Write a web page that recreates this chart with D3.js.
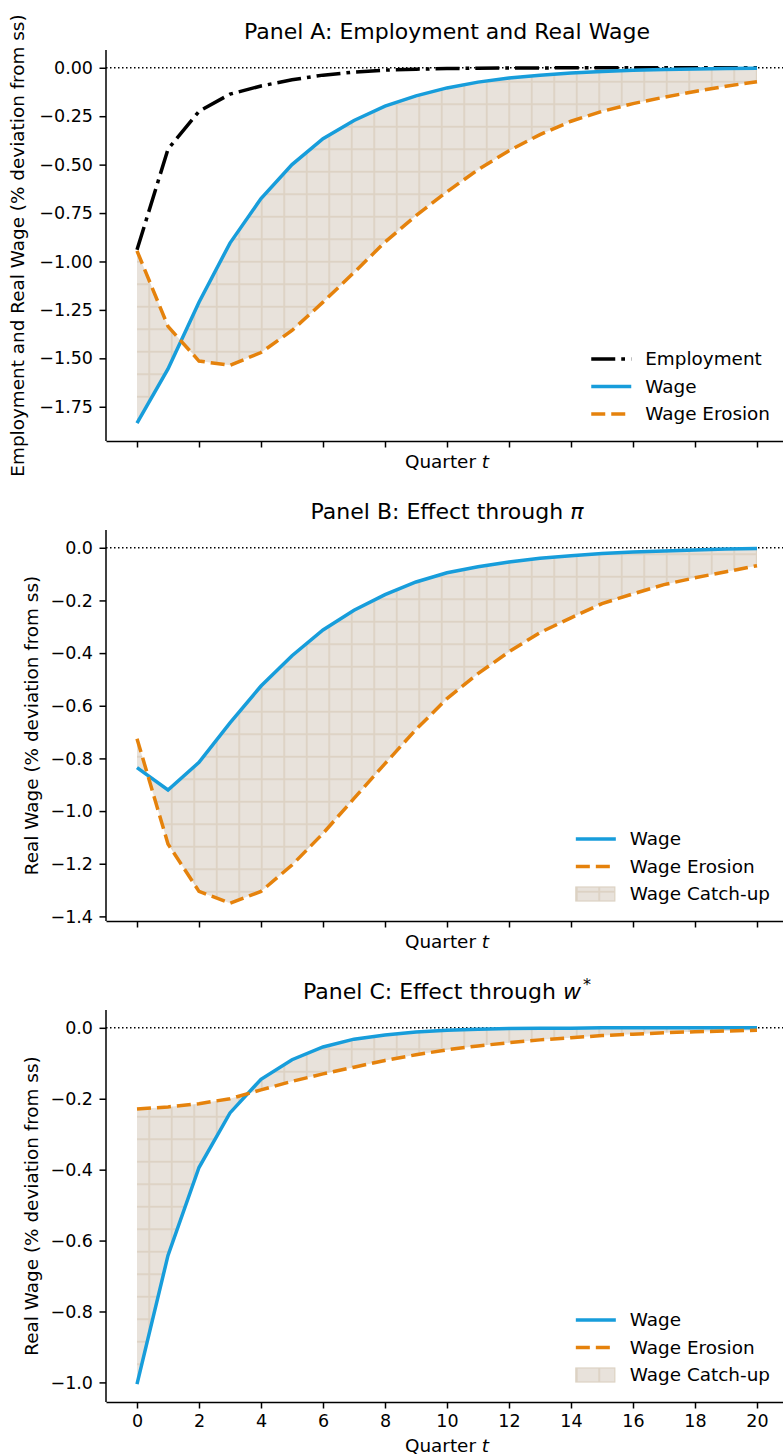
<!DOCTYPE html>
<html>
<head>
<meta charset="utf-8">
<script src="https://cdn.jsdelivr.net/npm/d3@7"></script>
<style>
  body { margin: 0; background: #fff; }
  svg text { font-family: "DejaVu Sans", sans-serif; fill: #000; }
</style>
</head>
<body>
<div id="chart"></div>
<script>
(function() {
  'use strict';

  // quarters after the shock
  var quarters = [0, 1, 2, 3, 4, 5, 6, 7, 8, 9, 10, 11, 12, 13, 14, 15, 16, 17, 18, 19, 20];
  var xTicks = [0, 2, 4, 6, 8, 10, 12, 14, 16, 18, 20];

  // Panel A
  var employmentA = [-0.94, -0.42, -0.225, -0.136, -0.094, -0.062, -0.038, -0.022, -0.012, -0.007,
    -0.004, -0.002, -0.001, -0.001, 0, 0, 0, 0, 0, 0, 0];
  var wageA = [-1.835, -1.555, -1.21, -0.905, -0.675, -0.50, -0.366, -0.272, -0.198, -0.145,
    -0.104, -0.074, -0.053, -0.038, -0.027, -0.019, -0.013, -0.009, -0.006, -0.004, -0.003];
  var erosionA = [-0.945, -1.335, -1.514, -1.536, -1.47, -1.356, -1.21, -1.057, -0.90, -0.763,
    -0.64, -0.526, -0.428, -0.345, -0.276, -0.225, -0.185, -0.152, -0.122, -0.095, -0.072];
  var yTicksA = [0, -0.25, -0.5, -0.75, -1.0, -1.25, -1.5, -1.75];

  // Panel B
  var wageB = [-0.835, -0.92, -0.815, -0.665, -0.525, -0.41, -0.312, -0.237, -0.178, -0.13,
    -0.095, -0.072, -0.054, -0.04, -0.03, -0.022, -0.016, -0.012, -0.008, -0.005, -0.003];
  var erosionB = [-0.725, -1.125, -1.305, -1.35, -1.305, -1.205, -1.085, -0.952, -0.82, -0.69,
    -0.573, -0.478, -0.395, -0.322, -0.266, -0.212, -0.175, -0.14, -0.114, -0.091, -0.068];
  var yTicksB = [0, -0.2, -0.4, -0.6, -0.8, -1.0, -1.2, -1.4];

  // Panel C
  var wageC = [-1.005, -0.642, -0.394, -0.24, -0.145, -0.09, -0.054, -0.032, -0.02, -0.012,
    -0.007, -0.004, -0.002, -0.001, -0.001, 0, 0, 0, 0, 0, 0];
  var erosionC = [-0.229, -0.223, -0.214, -0.2, -0.175, -0.151, -0.13, -0.111, -0.092, -0.076,
    -0.062, -0.051, -0.042, -0.034, -0.028, -0.022, -0.018, -0.014, -0.011, -0.009, -0.007];
  var yTicksC = [0, -0.2, -0.4, -0.6, -0.8, -1.0];

  var svgWidth = 783,
    svgHeight = 1456,
    left = 106,
    right = 788,
    tickSize = 17.5,
    labelSize = 18.4,
    titleSize = 22,
    tickLen = 6.5,
    tickPad = 6.5;

  var BLUE = '#179ddb',
    ORANGE = '#e5820c',
    FILL = '#e8e2db',
    HATCH = '#ddd2c3';

  var svg = d3.select('#chart')
    .append('svg')
    .attr('width', svgWidth)
    .attr('height', svgHeight)
    .attr('viewBox', '0 0 ' + svgWidth + ' ' + svgHeight);

  // '+' hatch, anchored to the page like matplotlib does
  var pat = svg.append('defs').append('pattern')
    .attr('id', 'hatch')
    .attr('patternUnits', 'userSpaceOnUse')
    .attr('x', 13.3)
    .attr('y', 13.3)
    .attr('width', 22.5)
    .attr('height', 22.5);
  pat.append('rect').attr('width', 22.5).attr('height', 22.5).attr('fill', FILL);
  pat.append('line').attr('x1', 0).attr('x2', 22.5).attr('y1', 0).attr('y2', 0)
    .attr('stroke', HATCH).attr('stroke-width', 3.6);
  pat.append('line').attr('x1', 0).attr('x2', 0).attr('y1', 0).attr('y2', 22.5)
    .attr('stroke', HATCH).attr('stroke-width', 3.6);

  var x = d3.scaleLinear().domain([-1, 21]).range([left, right]);

  function fmt(dec) {
    return function(v) {
      return v === 0 ? (0).toFixed(dec) : d3.format('.' + dec + 'f')(v).replace('-', '\u2212');
    };
  }

  function drawPanel(cfg) {
    var all = [0];
    cfg.series.forEach(function(s) { all = all.concat(s.values); });
    var lo = d3.min(all), hi = d3.max(all), pad = (hi - lo) * 0.05;
    var y = d3.scaleLinear().domain([lo - pad, hi + pad]).range([cfg.bottom, cfg.top]);

    var g = svg.append('g');

    // catch-up area between wage and erosion
    var area = d3.area()
      .x(function(d, i) { return x(quarters[i]); })
      .y0(function(d) { return y(d[0]); })
      .y1(function(d) { return y(d[1]); });
    g.append('path')
      .datum(d3.zip(cfg.wage, cfg.erosion))
      .attr('d', area)
      .attr('fill', 'url(#hatch)')
      .attr('stroke', 'none');

    // zero line
    g.append('line')
      .attr('x1', left).attr('x2', right)
      .attr('y1', y(0)).attr('y2', y(0))
      .attr('stroke', '#000')
      .attr('stroke-width', 1.5)
      .attr('stroke-dasharray', '1.5,2.5');

    var line = d3.line()
      .x(function(d, i) { return x(quarters[i]); })
      .y(function(d) { return y(d); });

    cfg.series.forEach(function(s) {
      g.append('path')
        .datum(s.values)
        .attr('d', line)
        .attr('fill', 'none')
        .attr('stroke', s.color)
        .attr('stroke-width', 3.5)
        .attr('stroke-dasharray', s.dash || null);
    });

    // axes
    var yAxis = d3.axisLeft(y)
      .tickValues(cfg.yTicks)
      .tickFormat(fmt(cfg.dec))
      .tickSizeInner(tickLen)
      .tickSizeOuter(0)
      .tickPadding(tickPad);
    var ya = g.append('g').attr('transform', 'translate(' + left + ',0)').call(yAxis);

    var xAxis = d3.axisBottom(x)
      .tickValues(xTicks)
      .tickSizeInner(tickLen)
      .tickSizeOuter(0)
      .tickPadding(tickPad)
      .tickFormat(cfg.showX ? d3.format('d') : function() { return ''; });
    var xa = g.append('g').attr('transform', 'translate(0,' + cfg.bottom + ')').call(xAxis);

    [ya, xa].forEach(function(a) {
      a.selectAll('path.domain').attr('stroke-width', 1.5);
      a.selectAll('.tick line').attr('stroke-width', 1.5);
      a.selectAll('text')
        .style('font-family', '"DejaVu Sans", sans-serif')
        .style('font-size', tickSize + 'px');
    });
    ya.select('path.domain').attr('d', 'M0,' + cfg.top + 'V' + cfg.bottom);

    // titles and labels
    g.append('text')
      .attr('x', (left + right) / 2)
      .attr('y', cfg.top - 11)
      .attr('text-anchor', 'middle')
      .style('font-size', titleSize + 'px')
      .text(cfg.title)
      .call(function(t) {
        if (cfg.titleSym) {
          t.append('tspan').style('font-style', 'italic').text(cfg.titleSym);
          if (cfg.titleSup) {
            t.append('tspan').attr('dy', -9).attr('dx', 2).style('font-size', '16px').text(cfg.titleSup);
          }
        }
      });

    var xl = g.append('text')
      .attr('x', (left + right) / 2)
      .attr('y', cfg.bottom + (cfg.showX ? 50 : 27))
      .attr('text-anchor', 'middle')
      .style('font-size', labelSize + 'px')
      .text('Quarter ');
    xl.append('tspan').style('font-style', 'italic').text('t');

    g.append('text')
      .attr('transform', 'translate(' + cfg.ylabelX + ',' + ((cfg.top + cfg.bottom) / 2) + ') rotate(-90)')
      .attr('text-anchor', 'middle')
      .attr('dy', '0.35em')
      .style('font-size', labelSize + 'px')
      .text(cfg.ylabel);

    // legend, lower right without frame
    var entries = cfg.series.map(function(s) {
      return { label: s.label, color: s.color, dash: s.dash, kind: 'line' };
    });
    if (cfg.catchup) entries.push({ label: 'Wage Catch-up', kind: 'patch' });

    var rowY = function(i) { return cfg.bottom - 27 - (entries.length - 1 - i) * 27.5; };
    var leg = g.append('g');
    var texts = leg.selectAll('text.leg')
      .data(entries).enter().append('text')
      .attr('class', 'leg')
      .attr('y', function(d, i) { return rowY(i); })
      .attr('dy', '0.35em')
      .style('font-size', labelSize + 'px')
      .text(function(d) { return d.label; });
    var maxW = 0;
    texts.each(function() { maxW = Math.max(maxW, this.getComputedTextLength()); });
    var tx = 770 - maxW;
    texts.attr('x', tx);

    entries.forEach(function(d, i) {
      var cy = rowY(i);
      if (d.kind === 'line') {
        leg.append('line')
          .attr('x1', tx - 54).attr('x2', tx - 14)
          .attr('y1', cy).attr('y2', cy)
          .attr('stroke', d.color)
          .attr('stroke-width', 3.5)
          .attr('stroke-dasharray', d.dash || null);
      } else {
        leg.append('rect')
          .attr('x', tx - 54).attr('y', cy - 7)
          .attr('width', 39).attr('height', 14)
          .attr('fill', 'url(#hatch)')
          .attr('stroke', HATCH)
          .attr('stroke-width', 1.2);
      }
    });
  }

  drawPanel({
    top: 50, bottom: 441, dec: 2, yTicks: yTicksA, showX: false, ylabelX: 18,
    title: 'Panel A: Employment and Real Wage',
    ylabel: 'Employment and Real Wage (% deviation from ss)',
    wage: wageA, erosion: erosionA, catchup: false,
    series: [
      { label: 'Employment', values: employmentA, color: '#000', dash: '24,6,3.75,6' },
      { label: 'Wage', values: wageA, color: BLUE },
      { label: 'Wage Erosion', values: erosionA, color: ORANGE, dash: '14,6' }
    ]
  });

  drawPanel({
    top: 530, bottom: 921, dec: 1, yTicks: yTicksB, showX: false, ylabelX: 32,
    title: 'Panel B: Effect through ', titleSym: '\u03c0',
    ylabel: 'Real Wage (% deviation from ss)',
    wage: wageB, erosion: erosionB, catchup: true,
    series: [
      { label: 'Wage', values: wageB, color: BLUE },
      { label: 'Wage Erosion', values: erosionB, color: ORANGE, dash: '14,6' }
    ]
  });

  drawPanel({
    top: 1010, bottom: 1402, dec: 1, yTicks: yTicksC, showX: true, ylabelX: 32,
    title: 'Panel C: Effect through ', titleSym: 'w', titleSup: '*',
    ylabel: 'Real Wage (% deviation from ss)',
    wage: wageC, erosion: erosionC, catchup: true,
    series: [
      { label: 'Wage', values: wageC, color: BLUE },
      { label: 'Wage Erosion', values: erosionC, color: ORANGE, dash: '14,6' }
    ]
  });
})();
</script>
</body>
</html>
